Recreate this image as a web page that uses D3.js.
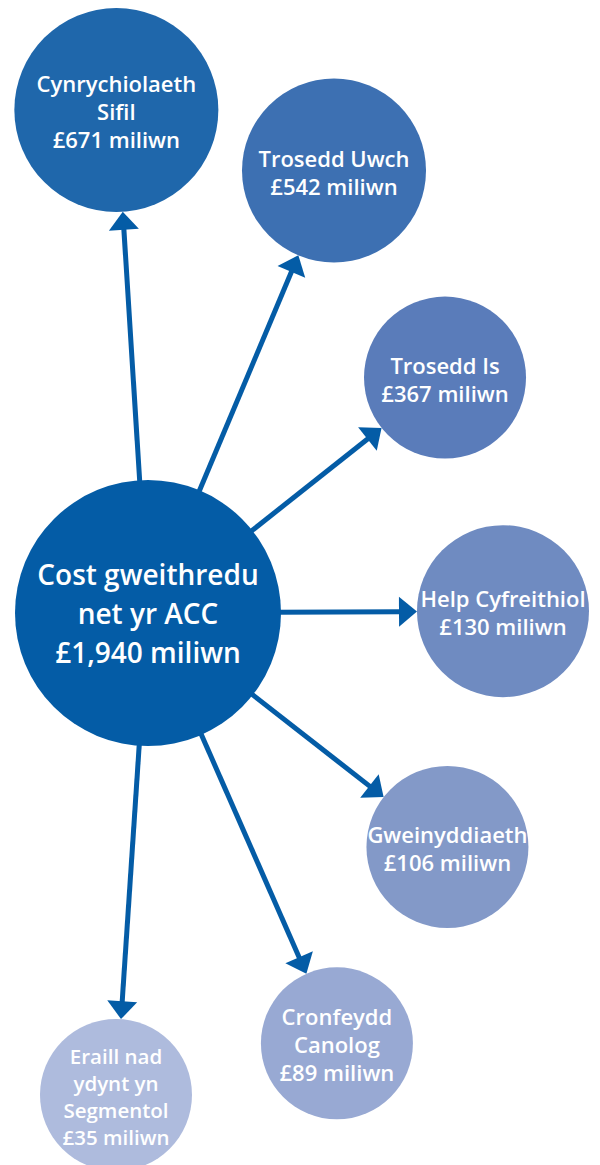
<!DOCTYPE html>
<html>
<head>
<meta charset="utf-8">
<script src="https://cdn.jsdelivr.net/npm/d3@7"></script>
<style>
  html, body { margin: 0; padding: 0; background: #fff; }
  text { font-family: "Open Sans", sans-serif; font-weight: 600; fill: #fff; }
</style>
</head>
<body>
<div id="chart"></div>
<script>
// data
const centreLabel = ["Cost gweithredu", "net yr ACC"];
const centreValue = 1940;
const segmentLabels = [
  ["Cynrychiolaeth", "Sifil"],
  ["Trosedd Uwch"],
  ["Trosedd Is"],
  ["Help Cyfreithiol"],
  ["Gweinyddiaeth"],
  ["Cronfeydd", "Canolog"],
  ["Eraill nad", "ydynt yn", "Segmentol"]
];
const segmentValues = [671, 542, 367, 130, 106, 89, 35];

// layout of the diagram (degrees clockwise from 12 o'clock, distance from centre, bubble radius)
const angles = [-3.6, 22.8, 51.6, 89.7, 128, 156.3, 183.8];
const distances = [504, 480, 379, 355, 380, 470, 483];
const radii = [102, 92, 81, 86, 81, 76, 76];
const colours = ["#1f67ab", "#3d70b2", "#5a7cba", "#6f8bc1", "#8399c8", "#98a9d3", "#aebbdd"];

const width = 600, height = 1165;
const centre = { x: 148, y: 613, r: 133 };
const arrowColour = "#045ca6";
const headLen = 18, headHalf = 15;

const fmt = v => "£" + d3.format(",")(v) + " miliwn";

const svg = d3.select("#chart").append("svg")
    .attr("width", width)
    .attr("height", height);

const toRad = d3.scaleLinear().domain([0, 180]).range([0, Math.PI]);

const nodes = segmentValues.map((v, i) => {
  const [dx, dy] = d3.pointRadial(toRad(angles[i]), distances[i]);
  return {
    x: centre.x + dx, y: centre.y + dy, r: radii[i],
    a: toRad(angles[i]), dist: distances[i],
    lines: segmentLabels[i].concat([fmt(v)]),
    fill: colours[i]
  };
});

// arrows
const arrows = svg.append("g");
nodes.forEach(n => {
  const ux = Math.sin(n.a), uy = -Math.cos(n.a);
  const tip = n.dist - n.r;
  const base = tip - headLen;
  arrows.append("line")
      .attr("x1", centre.x + ux * (centre.r - 5))
      .attr("y1", centre.y + uy * (centre.r - 5))
      .attr("x2", centre.x + ux * (base + 1))
      .attr("y2", centre.y + uy * (base + 1))
      .attr("stroke", arrowColour)
      .attr("stroke-width", 5);
  const bx = centre.x + ux * base, by = centre.y + uy * base;
  const px = -uy, py = ux;
  arrows.append("path")
      .attr("d", d3.line()([
        [centre.x + ux * tip, centre.y + uy * tip],
        [bx + px * headHalf, by + py * headHalf],
        [bx - px * headHalf, by - py * headHalf]
      ]) + "Z")
      .attr("fill", arrowColour);
});

// bubbles
const bubble = svg.append("g").selectAll("g")
  .data(nodes)
  .join("g")
    .attr("transform", d => `translate(${d.x},${d.y})`);

bubble.append("circle")
    .attr("r", d => d.r)
    .attr("fill", d => d.fill);

bubble.append("text")
    .attr("text-anchor", "middle")
    .attr("font-size", d => d.lines.length > 3 ? 20.5 : 22)
  .selectAll("tspan")
  .data(d => d.lines.map((t, i) => ({ t, i, n: d.lines.length })))
  .join("tspan")
    .attr("x", 0)
    .attr("y", d => (d.i - (d.n - 1) / 2) * (d.n > 3 ? 27 : 28) + 10)
    .text(d => d.t);

// centre bubble
const c = svg.append("g").attr("transform", `translate(${centre.x},${centre.y})`);
c.append("circle").attr("r", centre.r).attr("fill", arrowColour);
const cLines = centreLabel.concat([fmt(centreValue)]);
c.append("text")
    .attr("text-anchor", "middle")
    .attr("font-size", 28)
  .selectAll("tspan")
  .data(cLines)
  .join("tspan")
    .attr("x", 0)
    .attr("y", (d, i) => (i - 1) * 39 + 11)
    .text(d => d);
</script>
</body>
</html>
